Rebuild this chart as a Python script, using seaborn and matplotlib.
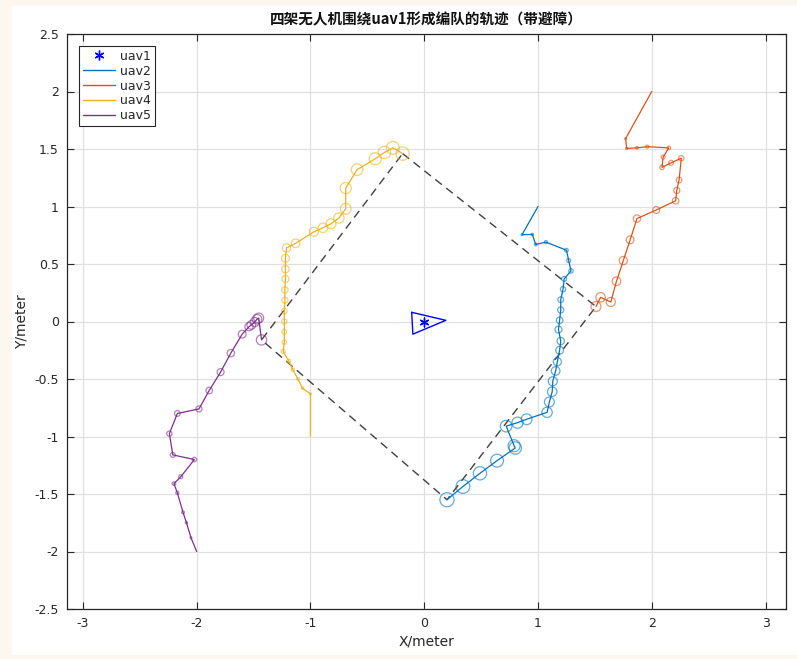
import numpy as np
import pandas as pd
import matplotlib
matplotlib.use("Agg")
import matplotlib.pyplot as plt
from matplotlib.lines import Line2D
from matplotlib.patches import Rectangle
import seaborn as sns

sns.set_style("ticks")
plt.rcParams['font.family'] = ['DejaVu Sans']
plt.rcParams['axes.unicode_minus'] = False

# leader (uav1) and its triangle glyph
uav1_x = [0.0]
uav1_y = [0.0]
tri_x = [-0.11, 0.19, -0.10, -0.11]
tri_y = [0.08, 0.01, -0.11, 0.08]

# formation target (dashed)
form_x = [-0.19, 1.51, 0.20, -1.43, -0.19]
form_y = [1.46, 0.13, -1.55, -0.16, 1.46]

# follower trajectories
uav2_x = [1.00, 0.86, 0.95, 0.98, 1.07, 1.25, 1.27, 1.29, 1.23, 1.22, 1.20, 1.20, 1.19, 1.18, 1.20,
          1.19, 1.17, 1.155, 1.13, 1.125, 1.10, 1.08, 0.90, 0.82, 0.72, 0.79, 0.80, 0.64, 0.49, 0.34, 0.20]
uav2_y = [1.00, 0.755, 0.757, 0.67, 0.69, 0.62, 0.53, 0.44, 0.37, 0.28, 0.19, 0.10, 0.01, -0.07, -0.17,
          -0.25, -0.35, -0.43, -0.52, -0.61, -0.70, -0.79, -0.85, -0.88, -0.91, -1.08, -1.10, -1.21, -1.32, -1.435, -1.55]

uav3_x = [2.0, 1.77, 1.78, 1.87, 1.96, 2.15, 2.10, 2.09, 2.17, 2.26, 2.24, 2.22, 2.21, 2.04, 1.87,
          1.81, 1.75, 1.69, 1.64, 1.55, 1.51]
uav3_y = [2.0, 1.59, 1.505, 1.51, 1.52, 1.51, 1.43, 1.34, 1.38, 1.42, 1.23, 1.14, 1.05, 0.97, 0.895,
          0.71, 0.53, 0.35, 0.17, 0.21, 0.13]

uav4_x = [-1.0, -1.0, -1.07, -1.11, -1.155, -1.19, -1.24, -1.23, -1.23, -1.23, -1.23, -1.225, -1.225,
          -1.22, -1.22, -1.22, -1.21, -1.13, -0.97, -0.89, -0.82, -0.75, -0.69, -0.69, -0.59, -0.43,
          -0.35, -0.275, -0.19]
uav4_y = [-1.0, -0.63, -0.58, -0.50, -0.42, -0.345, -0.26, -0.18, -0.09, 0.0, 0.09, 0.185, 0.275,
          0.37, 0.455, 0.55, 0.64, 0.68, 0.78, 0.815, 0.85, 0.90, 0.98, 1.16, 1.32, 1.415,
          1.47, 1.51, 1.46]

uav5_x = [-2.0, -2.05, -2.09, -2.12, -2.17, -2.20, -2.14, -2.02, -2.21, -2.24, -2.17, -1.98, -1.89,
          -1.79, -1.70, -1.60, -1.54, -1.52, -1.49, -1.47, -1.455, -1.43]
uav5_y = [-2.0, -1.88, -1.75, -1.66, -1.49, -1.41, -1.35, -1.20, -1.16, -0.975, -0.80, -0.76, -0.60,
          -0.44, -0.275, -0.11, -0.045, -0.03, -0.005, 0.02, 0.03, -0.16]

names = ['uav2', 'uav3', 'uav4', 'uav5']
colors = ['#0072BD', '#D95319', '#EDB120', '#7E2F8E']
tracks = [(uav2_x, uav2_y), (uav3_x, uav3_y), (uav4_x, uav4_y), (uav5_x, uav5_y)]

fig = plt.figure(figsize=(7.97, 6.59), dpi=100, facecolor='#fdf8ef')
fig.patches.append(Rectangle((12 / 797, 4 / 659), 1, 1 - 10 / 659, transform=fig.transFigure,
                             facecolor='white', edgecolor='none', zorder=-10))
ax = fig.add_axes([67 / 797, 1 - 609 / 659, (786 - 67) / 797, (609 - 34) / 659])

ax.grid(True, color='#e0e0e0', linewidth=0.9)
ax.set_axisbelow(True)

# formation outline
sns.lineplot(x=form_x, y=form_y, sort=False, estimator=None, ax=ax,
             color='#404040', linewidth=1.0, linestyle=(0, (6, 4)))

handles = []
for name, c, (xs, ys) in zip(names, colors, tracks):
    n = len(xs)
    idx = np.arange(n)
    diam_pt = 0.72 * (1.5 + 0.42 * idx)
    diam_pt[0] = 0.0
    df = pd.DataFrame({'x': xs, 'y': ys, 's': diam_pt ** 2})
    sns.lineplot(data=df, x='x', y='y', sort=False, estimator=None, ax=ax,
                 color=c, linewidth=0.9)
    sns.scatterplot(data=df, x='x', y='y', size='s', sizes=(df.s.min(), df.s.max()),
                    size_norm=(df.s.min(), df.s.max()), legend=False, ax=ax,
                    facecolor='none', edgecolor=c, linewidth=0.9, alpha=0.6, zorder=3)
    handles.append(Line2D([], [], color=c, linewidth=1.0, label=name))

# leader
sns.lineplot(x=tri_x, y=tri_y, sort=False, estimator=None, ax=ax, color='#0000FF', linewidth=1.0)
sns.scatterplot(x=uav1_x, y=uav1_y, marker=(6, 2, 0), s=40, color='#0000FF',
                linewidth=1.0, ax=ax, zorder=4)
handles.insert(0, Line2D([], [], color='#0000FF', marker=(6, 2, 0), markersize=7,
                         linestyle='none', label='uav1'))

ax.set_xlim(-3.14, 3.18)
ax.set_ylim(-2.5, 2.5)
ax.set_xticks(np.arange(-3, 4, 1))
ax.set_yticks(np.arange(-2.5, 2.51, 0.5))
ax.set_xticklabels(['-3', '-2', '-1', '0', '1', '2', '3'])
ax.set_yticklabels(['-2.5', '-2', '-1.5', '-1', '-0.5', '0', '0.5', '1', '1.5', '2', '2.5'])
ax.tick_params(direction='in', length=5, width=0.8, top=True, right=True,
               labelsize=9, colors='#262626', pad=6)
for sp in ax.spines.values():
    sp.set_visible(True)
    sp.set_color('#262626')
    sp.set_linewidth(0.9)

ax.set_xlabel('X/meter', fontsize=10, color='#262626', labelpad=3)
ax.set_ylabel('Y/meter', fontsize=10, color='#262626', labelpad=4)
ax.set_title('四架无人机围绕uav1形成编队的轨迹（带避障）', fontsize=10.5, fontweight='bold',
             color='#111111', pad=7, family=['Noto Sans CJK SC', 'DejaVu Sans'])

leg = ax.legend(handles=handles, loc='upper left', bbox_to_anchor=(0.0167, 0.979),
                borderaxespad=0, fontsize=9, frameon=True, fancybox=False, framealpha=1,
                edgecolor='#262626', handlelength=2.6, handletextpad=0.4,
                labelspacing=0.15, borderpad=0.3)
leg.get_frame().set_linewidth(0.8)

fig.savefig('out.png', dpi=100, facecolor=fig.get_facecolor())
